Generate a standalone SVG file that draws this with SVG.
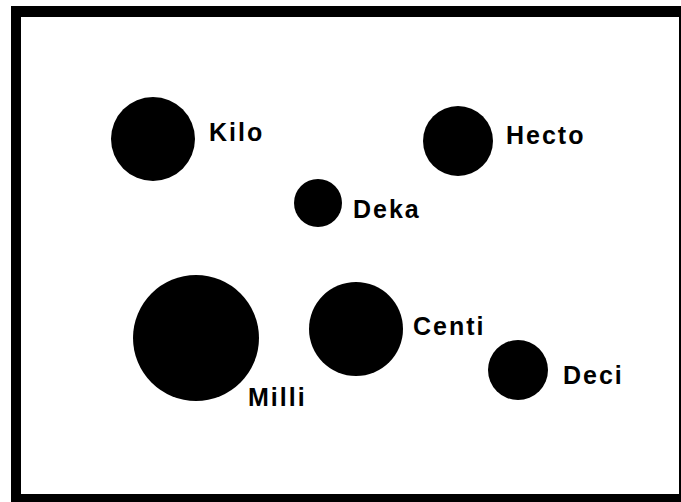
<svg xmlns="http://www.w3.org/2000/svg" width="681" height="502" viewBox="0 0 681 502">
<style>
.dot{fill:#000}
.lbl{font-family:"Liberation Sans",Arial,Helvetica,sans-serif;font-weight:bold;font-size:25px;letter-spacing:2px;fill:#000}
</style>
<rect x="0" y="0" width="681" height="502" fill="#fff"/>
<path id="frame" fill="#000" fill-rule="evenodd" d="M11 6H681V502H11Z M21 17H679V494H21Z"/>
<g id="kilo"><circle class="dot" cx="153" cy="139" r="42"/><text class="lbl" x="209" y="141">Kilo</text></g>
<g id="hecto"><circle class="dot" cx="458" cy="141" r="35"/><text class="lbl" x="506" y="144">Hecto</text></g>
<g id="deka"><circle class="dot" cx="318" cy="203" r="24"/><text class="lbl" x="353" y="218">Deka</text></g>
<g id="milli"><circle class="dot" cx="196" cy="338" r="63"/><text class="lbl" x="248" y="406">Milli</text></g>
<g id="centi"><circle class="dot" cx="356" cy="329" r="47"/><text class="lbl" x="413" y="335">Centi</text></g>
<g id="deci"><circle class="dot" cx="518" cy="370" r="30"/><text class="lbl" x="563" y="384">Deci</text></g>
</svg>
